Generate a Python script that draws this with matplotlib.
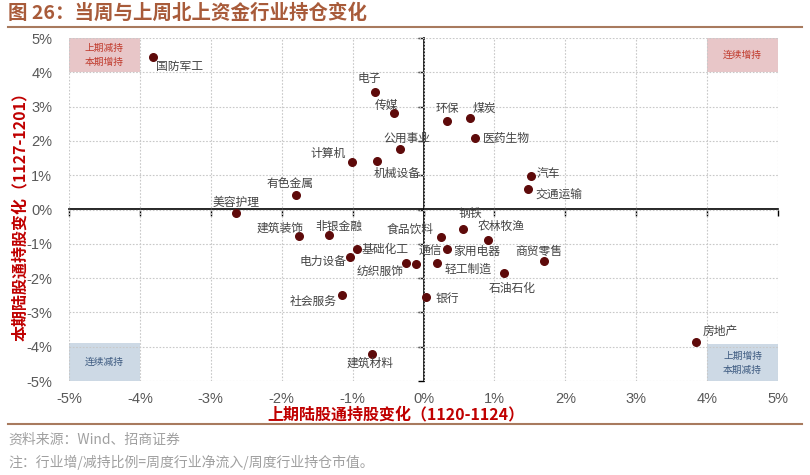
import matplotlib
matplotlib.use("Agg")
import matplotlib.pyplot as plt
from matplotlib.patches import Rectangle
from matplotlib.ticker import FuncFormatter, NullFormatter

plt.rcParams['font.family'] = ['Noto Sans CJK SC', 'DejaVu Sans']

# 行业, 上期变化(%), 本期变化(%)
industries = ['国防军工', '电子', '传媒', '公用事业', '计算机', '机械设备', '环保', '煤炭',
              '医药生物', '汽车', '交通运输', '有色金属', '美容护理', '建筑装饰', '非银金融',
              '基础化工', '电力设备', '纺织服饰', '通信', '食品饮料', '钢铁', '农林牧渔',
              '家用电器', '轻工制造', '石油石化', '商贸零售', '银行', '社会服务', '建筑材料',
              '房地产']
prev_change = [-3.81, -0.69, -0.41, -0.33, -1.01, -0.65, 0.33, 0.65,
               0.73, 1.51, 1.48, -1.80, -2.64, -1.76, -1.33,
               -0.94, -1.04, -0.25, -0.11, 0.25, 0.56, 0.91,
               0.33, 0.19, 1.14, 1.70, 0.04, -1.15, -0.72,
               3.85]
curr_change = [4.44, 3.44, 2.80, 1.77, 1.39, 1.42, 2.59, 2.68,
               2.09, 0.98, 0.59, 0.41, -0.11, -0.77, -0.74,
               -1.16, -1.39, -1.55, -1.58, -0.79, -0.56, -0.88,
               -1.16, -1.55, -1.85, -1.49, -2.56, -2.48, -4.20,
               -3.87]

# label placement (offset in pixels, horizontal alignment)
label_pos = {
    '国防军工': (3, -9, 'left'), '电子': (-5, 13, 'center'), '传媒': (-8, 8, 'center'),
    '公用事业': (7, 10, 'center'), '计算机': (-6, 8, 'right'), '机械设备': (-4, -13, 'left'),
    '环保': (0, 12, 'center'), '煤炭': (15, 9, 'center'), '医药生物': (8, -1, 'left'),
    '汽车': (6, 2, 'left'), '交通运输': (7, -6, 'left'), '有色金属': (-6, 12, 'center'),
    '美容护理': (0, 11, 'center'), '建筑装饰': (-19, 8, 'center'), '非银金融': (10, 8, 'center'),
    '基础化工': (5, 0, 'left'), '电力设备': (-3, -4, 'right'), '纺织服饰': (-26, -10, 'center'),
    '通信': (15, 12, 'center'), '食品饮料': (-8, 7, 'right'), '钢铁': (7, 15, 'center'),
    '农林牧渔': (-10, 13, 'left'), '家用电器': (6, -2, 'left'), '轻工制造': (8, -7, 'left'),
    '石油石化': (8, -16, 'center'), '商贸零售': (-5, 9, 'center'), '银行': (9, -1, 'left'),
    '社会服务': (-5, -7, 'right'), '建筑材料': (-2, -10, 'center'), '房地产': (6, 11, 'left'),
}

ticks = [-5, -4, -3, -2, -1, 0, 1, 2, 3, 4, 5]


def pct(x, pos):
    return f'{int(round(x))}%'


def draw_chart():
    fig = plt.figure(figsize=(8.1, 4.75), dpi=100)
    ax = fig.add_axes([69 / 810, 1 - 381 / 475, 709 / 810, 343 / 475])
    ax.set_xlim(-5, 5)
    ax.set_ylim(-5, 5)
    ax.set_xticks(ticks)
    ax.set_yticks(ticks)
    ax.xaxis.set_major_formatter(FuncFormatter(pct))
    ax.yaxis.set_major_formatter(FuncFormatter(pct))
    ax.tick_params(length=0, pad=8, labelsize=10.5, labelcolor='#595959')
    ax.tick_params(axis='y', pad=12)
    for lab in ax.get_xticklabels() + ax.get_yticklabels():
        lab.set_family('Liberation Sans')
    ax.grid(True, color='#c8c8c8', linestyle=(0, (1.5, 1.5)), linewidth=0.8)
    for s in ax.spines.values():
        s.set_visible(False)

    # corner boxes
    pink, blue = '#e8c6c8', '#cdd9e5'
    boxes = [(-5, 4, 1, 1, pink, '上期减持\n本期增持', '#c0392b'),
             (4, 4, 1, 1, pink, '连续增持', '#c0392b'),
             (-5, -5, 1, 1.1, blue, '连续减持', '#3d5a80'),
             (4, -5, 1, 1.08, blue, '上期增持\n本期减持', '#3d5a80')]
    for bx, by, bw, bh, fc, txt, tc in boxes:
        ax.add_patch(Rectangle((bx, by), bw, bh, facecolor=fc, edgecolor='none', zorder=1))
        ax.text(bx + bw / 2, by + bh / 2, txt, ha='center', va='center', fontsize=7,
                color=tc, linespacing=1.5, zorder=2)

    # axes through origin with tick marks pointing down / left
    secx = ax.secondary_xaxis(0.5)
    secx.set_xticks(ticks)
    secx.xaxis.set_ticks_position('bottom')
    secx.xaxis.set_major_formatter(NullFormatter())
    secx.tick_params(direction='out', length=4, width=1, color='black')
    for s in secx.spines.values():
        s.set_linewidth(1.2)
    secy = ax.secondary_yaxis(0.5)
    secy.set_yticks(ticks)
    secy.yaxis.set_ticks_position('left')
    secy.yaxis.set_major_formatter(NullFormatter())
    secy.tick_params(direction='out', length=4, width=1, color='black')
    for s in secy.spines.values():
        s.set_linewidth(1.2)

    ax.scatter(prev_change, curr_change, s=30, color='#5e0a0a', zorder=5)
    for name, x, y in zip(industries, prev_change, curr_change):
        dx, dy, ha = label_pos[name]
        ax.annotate(name, (x, y), xytext=(dx, dy), textcoords='offset pixels',
                    ha=ha, va='center', fontsize=8.5, color='#444444', zorder=6)

    ax.set_xlabel('上期陆股通持股变化（1120-1124）', fontsize=11.5, fontweight='bold',
                  color='#c00000')
    ax.xaxis.set_label_coords((396 - 69) / 709, (381 - 406) / 343)
    ax.set_ylabel('本期陆股通持股变化（1127-1201）', fontsize=11.5, fontweight='bold',
                  color='#c00000')
    ax.yaxis.set_label_coords((28 - 69) / 709, 0.49)

    # title, rules and footnotes
    fig.text(8 / 810, 1 - 13 / 475, '图 26：当周与上周北上资金行业持仓变化', fontsize=14,
             fontweight='bold', color='#a85b3a', ha='left', va='center')
    fig.add_artist(plt.Line2D([8 / 810, 802 / 810], [1 - 27 / 475] * 2, color='#a87a5e', lw=1.5))
    fig.add_artist(plt.Line2D([8 / 810, 802 / 810], [1 - 424 / 475] * 2, color='#a87a5e', lw=1.5))
    fig.text(8 / 810, 1 - 440 / 475, '资料来源：Wind、招商证券', fontsize=10, color='#a0a0a0',
             ha='left', va='center')
    fig.text(8 / 810, 1 - 462 / 475, '注：行业增/减持比例=周度行业净流入/周度行业持仓市值。',
             fontsize=10, color='#a0a0a0', ha='left', va='center')

    fig.savefig('out.png', dpi=100)


def main():
    draw_chart()


if __name__ == "__main__":
    main()
